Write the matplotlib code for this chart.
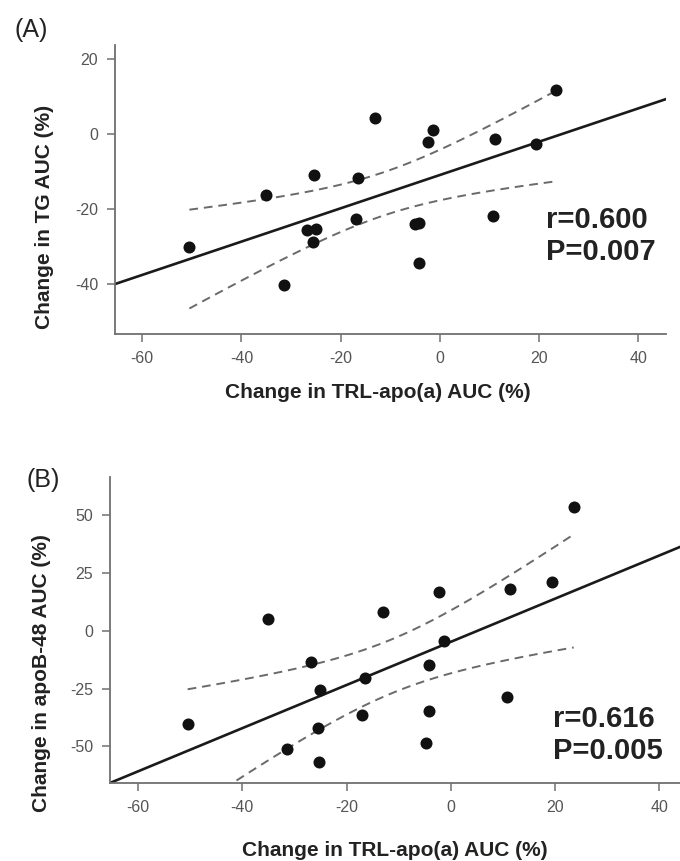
import numpy as np
import matplotlib
matplotlib.use('Agg')
import matplotlib.pyplot as plt

plt.rcParams['font.family'] = ['Liberation Sans', 'DejaVu Sans']

# change in TRL-apo(a) AUC (%), one value per subject
trl_apoa = [-50.5, -35.0, -31.5, -26.8, -25.0, -25.5, -25.3, -16.5, -17.0, -13.0,
            -5.0, -4.3, -4.3, -2.3, -1.4, 10.7, 11.2, 19.4, 23.5]
# panel A: change in TG AUC (%)
tg_auc = [-30.0, -16.1, -40.3, -25.6, -25.2, -28.7, -10.9, -11.8, -22.7, 4.4,
          -24.0, -23.6, -34.3, -2.0, 1.1, -21.9, -1.3, -2.7, 11.7]
# panel B: change in apoB-48 AUC (%)
apob48_x = [-50.5, -35.0, -31.5, -26.8, -25.0, -25.5, -25.3, -16.5, -17.0, -13.0,
            -4.8, -4.2, -4.2, -2.2, -1.3, 10.8, 11.4, 19.5, 23.6]
apob48_auc = [-40.3, 5.3, -51.1, -13.6, -25.5, -42.1, -56.6, -20.3, -36.4, 8.2,
              -48.5, -15.0, -34.8, 16.7, -4.5, -28.7, 18.2, 21.1, 53.8]

xticks = [-60, -40, -20, 0, 20, 40]
yticks_a = [20, 0, -20, -40]
yticks_b = [50, 25, 0, -25, -50]
stats_a = ['r=0.600', 'P=0.007']
stats_b = ['r=0.616', 'P=0.005']

W, H = 680, 861
fig = plt.figure(figsize=(W / 100, H / 100), dpi=100)


def px_axes(l, t, r, b):
    return fig.add_axes([l / W, 1 - b / H, (r - l) / W, (b - t) / H])


def draw(ax, x, y, xlim, ylim, yticks):
    x = np.array(x)
    y = np.array(y)
    n = len(x)
    slope, icpt = np.polyfit(x, y, 1)
    # regression line over the whole axis
    xl = np.linspace(xlim[0], xlim[1], 50)
    ax.plot(xl, icpt + slope * xl, color='#1a1a1a', lw=1.9, zorder=2)
    # 95% CI of the mean
    xm = x.mean()
    sxx = ((x - xm) ** 2).sum()
    s = np.sqrt(((y - (icpt + slope * x)) ** 2).sum() / (n - 2))
    tcrit = 2.110
    xc = np.linspace(x.min(), x.max(), 100)
    half = tcrit * s * np.sqrt(1 / n + (xc - xm) ** 2 / sxx)
    yc = icpt + slope * xc
    for sign in (1, -1):
        ax.plot(xc, yc + sign * half, color='#6a6a6a', lw=1.4,
                dashes=(4.5, 3), zorder=2)
    ax.scatter(x, y, s=75, color='#111111', zorder=3, linewidths=0)

    ax.set_xlim(xlim)
    ax.set_ylim(ylim)
    ax.set_xticks(xticks)
    ax.set_yticks(yticks)
    ax.set_xticklabels([str(t) for t in xticks])
    ax.set_yticklabels([str(t) for t in yticks])
    for sp in ['top', 'right']:
        ax.spines[sp].set_visible(False)
    for sp in ['left', 'bottom']:
        ax.spines[sp].set_color('#707070')
        ax.spines[sp].set_linewidth(1.3)
    ax.tick_params(length=6, width=1.1, color='#707070', labelcolor='#555555',
                   labelsize=11.5, pad=6)


ax1 = px_axes(115, 45, 666, 334)
draw(ax1, trl_apoa, tg_auc, (-65.5, 45.6), (-53.3, 23.8), yticks_a)
ax2 = px_axes(110, 477, 680, 783)
draw(ax2, apob48_x, apob48_auc, (-65.4, 44.0), (-65.9, 66.6), yticks_b)

bold = dict(fontweight='bold', color='#222222')
fig.text(31 / W, 1 - 30 / H, '(A)', fontsize=18, ha='center', va='center', color='#222222')
fig.text(43 / W, 1 - 480 / H, '(B)', fontsize=18, ha='center', va='center', color='#222222')

fig.text(44 / W, 1 - 217 / H, 'Change in TG AUC (%)', rotation=90, fontsize=15,
         ha='center', va='center', **bold)
fig.text(42 / W, 1 - 673 / H, 'Change in apoB-48 AUC (%)', rotation=90, fontsize=15,
         ha='center', va='center', **bold)
fig.text(378 / W, 1 - 393 / H, 'Change in TRL-apo(a) AUC (%)', fontsize=15,
         ha='center', va='center', **bold)
fig.text(395 / W, 1 - 850 / H, 'Change in TRL-apo(a) AUC (%)', fontsize=15,
         ha='center', va='center', **bold)

fig.text(546 / W, 1 - 220 / H, stats_a[0], fontsize=21, ha='left', va='center', **bold)
fig.text(546 / W, 1 - 252 / H, stats_a[1], fontsize=21, ha='left', va='center', **bold)
fig.text(553 / W, 1 - 719 / H, stats_b[0], fontsize=21, ha='left', va='center', **bold)
fig.text(553 / W, 1 - 751 / H, stats_b[1], fontsize=21, ha='left', va='center', **bold)

fig.savefig('out.png', dpi=100, facecolor='white')
